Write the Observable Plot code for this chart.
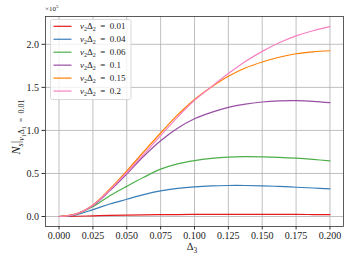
<!DOCTYPE html>
<html><head><meta charset="utf-8">
<script src="https://cdn.jsdelivr.net/npm/d3@7"></script>
<script src="https://cdn.jsdelivr.net/npm/@observablehq/plot@0.6"></script>
<style>
html,body{margin:0;padding:0;background:#fff;}
</style>
</head><body>
<div id="chart"></div>
<script>
const delta3 = [0, 0.0125, 0.025, 0.0375, 0.05, 0.0625, 0.075, 0.0875, 0.1, 0.1125, 0.125, 0.1375, 0.15, 0.1625, 0.175, 0.1875, 0.2];
const seriesNames = ["0.01", "0.04", "0.06", "0.1", "0.15", "0.2"];
const seriesColors = ["#e41a1c", "#377eb8", "#4daf4a", "#984ea3", "#ff7f00", "#f781bf"];
const s001 = [0, 0.003, 0.008, 0.013, 0.017, 0.020, 0.022, 0.023, 0.024, 0.025, 0.025, 0.025, 0.025, 0.024, 0.024, 0.023, 0.022];
const s004 = [0, 0.020, 0.080, 0.145, 0.200, 0.255, 0.298, 0.326, 0.344, 0.355, 0.360, 0.360, 0.356, 0.349, 0.340, 0.331, 0.321];
const s006 = [0, 0.025, 0.115, 0.240, 0.350, 0.455, 0.550, 0.612, 0.650, 0.675, 0.690, 0.695, 0.693, 0.687, 0.677, 0.663, 0.646];
const s01  = [0, 0.028, 0.125, 0.300, 0.495, 0.700, 0.880, 1.025, 1.135, 1.210, 1.268, 1.306, 1.330, 1.342, 1.345, 1.338, 1.322];
const s015 = [0, 0.030, 0.135, 0.320, 0.530, 0.752, 0.970, 1.180, 1.360, 1.505, 1.630, 1.725, 1.795, 1.850, 1.890, 1.912, 1.925];
const s02  = [0, 0.028, 0.130, 0.310, 0.510, 0.722, 0.940, 1.155, 1.350, 1.508, 1.660, 1.800, 1.918, 2.018, 2.098, 2.158, 2.205];
const xTicks = [0, 0.025, 0.05, 0.075, 0.1, 0.125, 0.15, 0.175, 0.2];
const yTicks = [0, 0.5, 1.0, 1.5, 2.0];

const allSeries = [s001, s004, s006, s01, s015, s02];
const data = allSeries.flatMap((vals, si) => delta3.map((x, i) => ({x, y: vals[i], k: seriesNames[si]})));

const font = "'Liberation Serif', 'DejaVu Serif', serif";
const svg = Plot.plot({
  width: 352, height: 264,
  marginLeft: 45, marginRight: 9, marginTop: 16, marginBottom: 38,
  style: {fontFamily: font, fontSize: "10px", color: "#222", background: "#fff"},
  x: {domain: [-0.01, 0.21], label: null},
  y: {domain: [-0.116, 2.323], label: null},
  color: {domain: seriesNames, range: seriesColors},
  marks: [
    Plot.gridX(xTicks, {stroke: "#b0b0b0", strokeOpacity: 1, strokeWidth: 0.8}),
    Plot.gridY(yTicks, {stroke: "#b0b0b0", strokeOpacity: 1, strokeWidth: 0.8}),
    Plot.line(data, {x: "x", y: "y", z: "k", stroke: "k", strokeWidth: 1.2, curve: "catmull-rom"}),
    Plot.frame({stroke: "#333", strokeWidth: 0.8}),
    Plot.axisX(xTicks, {tickFormat: d3.format(".3f"), tickSize: 3.5, tickPadding: 2, stroke: "#333", label: null}),
    Plot.axisY(yTicks, {tickFormat: d3.format(".1f"), tickSize: 3.5, tickPadding: 3, stroke: "#333", label: null})
  ]
});
document.getElementById("chart").appendChild(svg);

const root = d3.select(svg);
// multiplier
const mult = root.append("text").attr("x", 45).attr("y", 11).attr("text-anchor", "start").attr("font-family", font).attr("font-size", 7).attr("fill", "#222");
mult.append("tspan").text("×10");
mult.append("tspan").attr("font-size", 5).attr("dy", -3).text("5");

// x label
const xl = root.append("text").attr("x", 192).attr("y", 250).attr("text-anchor", "middle").attr("font-family", font).attr("font-size", 10.5).attr("fill", "#222");
xl.append("tspan").text("Δ");
xl.append("tspan").attr("font-size", 7.5).attr("dy", 2.5).text("3");

// y label
const yl = root.append("text").attr("transform", "translate(20,127) rotate(-90)").attr("text-anchor", "middle").attr("font-family", font).attr("font-size", 12).attr("fill", "#222");
yl.append("tspan").attr("font-style", "italic").text("N");
yl.append("tspan").attr("font-style", "italic").attr("font-size", 8).attr("dy", 2.5).text("s");
yl.append("tspan").attr("dy", -2.5).text("|");
yl.append("tspan").attr("font-style", "italic").attr("font-size", 8).attr("dy", 4).text("ν");
yl.append("tspan").attr("font-size", 6).attr("dy", 1.5).text("1");
yl.append("tspan").attr("font-size", 8).attr("dy", -1.5).text("Δ");
yl.append("tspan").attr("font-size", 6).attr("dy", 1.5).text("1");
yl.append("tspan").attr("font-size", 8).attr("dy", -1.5).text("\u2002=\u20020.01");

// legend
const lg = root.append("g").attr("text-anchor", "start");
lg.append("rect").attr("x", 50.5).attr("y", 19.5).attr("width", 80.5).attr("height", 80).attr("rx", 2)
  .attr("fill", "#fff").attr("fill-opacity", 0.8).attr("stroke", "#d0d0d0").attr("stroke-width", 0.8);
seriesNames.forEach((n, i) => {
  const yy = 26.3 + i * 12.95;
  lg.append("line").attr("x1", 53.5).attr("x2", 71.5).attr("y1", yy).attr("y2", yy).attr("stroke", seriesColors[i]).attr("stroke-width", 1.2);
  const t = lg.append("text").attr("x", 80).attr("y", yy + 3).attr("text-anchor", "start").attr("font-family", font).attr("font-size", 9).attr("fill", "#222");
  t.append("tspan").attr("font-style", "italic").text("ν");
  t.append("tspan").attr("font-size", 6).attr("dy", 1.5).text("2");
  t.append("tspan").attr("dy", -1.5).text("Δ");
  t.append("tspan").attr("font-size", 6).attr("dy", 1.5).text("2");
  t.append("tspan").attr("dy", -1.5).text("\u2002=\u2002" + n);
});
</script>
</body></html>
